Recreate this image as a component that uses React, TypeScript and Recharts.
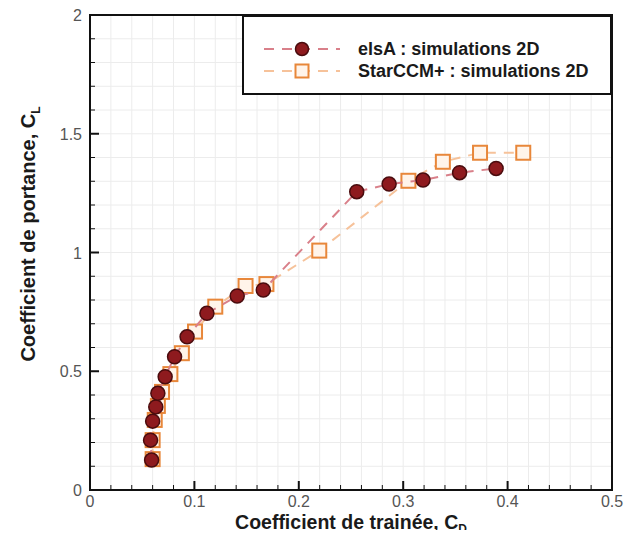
import { CartesianGrid, Label, ReferenceArea, Scatter, ScatterChart, XAxis, YAxis } from "recharts";

// drag coefficient / lift coefficient
const elsaCd = [0.059, 0.058, 0.060, 0.063, 0.065, 0.072, 0.081, 0.093, 0.112, 0.141, 0.166, 0.2555, 0.2865, 0.319, 0.354, 0.389];
const elsaCl = [0.126, 0.21, 0.29, 0.35, 0.407, 0.477, 0.561, 0.645, 0.744, 0.817, 0.842, 1.256, 1.288, 1.305, 1.336, 1.354];

const starCd = [0.060, 0.060, 0.062, 0.065, 0.069, 0.077, 0.088, 0.1006, 0.12, 0.149, 0.169, 0.2196, 0.305, 0.338, 0.3736, 0.415];
const starCl = [0.13, 0.21, 0.295, 0.354, 0.413, 0.488, 0.576, 0.667, 0.772, 0.859, 0.867, 1.008, 1.302, 1.382, 1.42, 1.42];

const xTicks = [0, 0.02, 0.04, 0.06, 0.08, 0.1, 0.12, 0.14, 0.16, 0.18, 0.2, 0.22, 0.24, 0.26, 0.28, 0.3, 0.32, 0.34, 0.36, 0.38, 0.4, 0.42, 0.44, 0.46, 0.48, 0.5];
const yTicks = [0, 0.1, 0.2, 0.3, 0.4, 0.5, 0.6, 0.7, 0.8, 0.9, 1, 1.1, 1.2, 1.3, 1.4, 1.5, 1.6, 1.7, 1.8, 1.9, 2];

const seriesNames = ["elsA : simulations 2D", "StarCCM+ : simulations 2D"];

const elsaData = elsaCd.map((cd, i) => ({ cd, cl: elsaCl[i] }));
const starData = starCd.map((cd, i) => ({ cd, cl: starCl[i] }));

const FONT = "'Liberation Sans', Arial, Helvetica, sans-serif";
const RED = "#8e1a1e";
const RED_EDGE = "#4a0c0e";
const RED_LINE = "#d9808a";
const ORANGE = "#e8873a";
const ORANGE_FILL = "#fff4ea";
const ORANGE_LINE = "#f6c29a";

const isMultiple = (v: number, step: number) => Math.abs(v / step - Math.round(v / step)) < 1e-6;

const XTick = (props: any) => {
  const { x, y, payload } = props;
  const v = payload.value;
  const major = isMultiple(v, 0.1);
  return (
    <g>
      <line x1={x} x2={x} y1={y} y2={y - (major ? 9 : 5)} stroke="#111" strokeWidth={major ? 2 : 1} />
      {major && (
        <text x={x} y={y + 17} textAnchor="middle" fontSize={16} fill="#555" fontFamily={FONT}>
          {String(Math.round(v * 10) / 10)}
        </text>
      )}
    </g>
  );
};

const YTick = (props: any) => {
  const { x, y, payload } = props;
  const v = payload.value;
  const major = isMultiple(v, 0.5);
  return (
    <g>
      <line x1={x} x2={x + (major ? 9 : 5)} y1={y} y2={y} stroke="#111" strokeWidth={major ? 2 : 1} />
      {major && (
        <text x={x - 8} y={y + 6} textAnchor="end" fontSize={16} fill="#555" fontFamily={FONT}>
          {String(v)}
        </text>
      )}
    </g>
  );
};

const XTitle = (props: any) => {
  const { viewBox } = props;
  const cx = viewBox.x + viewBox.width / 2;
  return (
    <text x={cx} y={529} textAnchor="middle" fontSize={19.5} fontWeight="bold" fill="#1a1a1a" fontFamily={FONT}>
      Coefficient de trainée, C
      <tspan fontSize={12} dy={4}>D</tspan>
    </text>
  );
};

const YTitle = () => {
  const cy = 234;
  return (
    <text
      x={35}
      y={cy}
      transform={`rotate(-90 35 ${cy})`}
      textAnchor="middle"
      fontSize={20}
      fontWeight="bold"
      fill="#1a1a1a"
      fontFamily={FONT}
    >
      Coefficient de portance, C
      <tspan fontSize={12} dy={5}>L</tspan>
    </text>
  );
};

const Dot = (props: any) => (
  <circle cx={props.cx} cy={props.cy} r={7} fill={RED} stroke={RED_EDGE} strokeWidth={1.5} />
);

const Box = (props: any) => (
  <rect x={props.cx - 7} y={props.cy - 7} width={14} height={14} fill={ORANGE_FILL} stroke={ORANGE} strokeWidth={2} />
);

const LegendBox = () => (
  <div
    style={{
      position: "absolute",
      left: 242,
      top: 15,
      width: 366,
      height: 76,
      background: "#fff",
      border: "2px solid #111",
      fontFamily: FONT,
      fontWeight: "bold",
      fontSize: 18,
      color: "#1a1a1a",
    }}
  >
    {seriesNames.map((name, i) => (
      <div
        key={name}
        style={{ position: "absolute", left: 16, top: i === 0 ? 22 : 44, height: 20, display: "flex", alignItems: "center" }}
      >
        <svg width={84} height={18}>
          <line
            x1={4}
            x2={80}
            y1={9}
            y2={9}
            stroke={i === 0 ? RED_LINE : ORANGE_LINE}
            strokeWidth={2}
            strokeDasharray="10 8"
          />
          {i === 0 ? (
            <circle cx={42} cy={9} r={6.5} fill={RED} stroke={RED_EDGE} strokeWidth={1.5} />
          ) : (
            <rect x={35.5} y={2.5} width={13} height={13} fill={ORANGE_FILL} stroke={ORANGE} strokeWidth={2} />
          )}
        </svg>
        <span style={{ marginLeft: 14 }}>{name}</span>
      </div>
    ))}
  </div>
);

export default function App() {
  return (
    <div style={{ position: "relative", width: 643, height: 538, margin: -8, background: "#fff" }}>
      <ScatterChart width={643} height={538} margin={{ top: 15, right: 31, bottom: 0, left: 0 }}>
        <CartesianGrid stroke="#ececec" strokeWidth={1} />
        <XAxis
          type="number"
          dataKey="cd"
          domain={[0, 0.5]}
          ticks={xTicks}
          interval={0}
          height={48}
          tickSize={0}
          tickMargin={0}
          tickLine={false}
          axisLine={false}
          tick={<XTick />}
          allowDataOverflow
        >
          <Label content={<XTitle />} />
        </XAxis>
        <YAxis
          type="number"
          dataKey="cl"
          domain={[0, 2]}
          ticks={yTicks}
          interval={0}
          width={90}
          tickSize={0}
          tickMargin={0}
          tickLine={false}
          axisLine={false}
          tick={<YTick />}
          allowDataOverflow
        >
          <Label content={<YTitle />} />
        </YAxis>
        <Scatter
          name={seriesNames[1]}
          data={starData}
          shape={<Box />}
          line={{ stroke: ORANGE_LINE, strokeWidth: 2, strokeDasharray: "10 8" }}
          lineType="joint"
          isAnimationActive={false}
        />
        <Scatter
          name={seriesNames[0]}
          data={elsaData}
          shape={<Dot />}
          line={{ stroke: RED_LINE, strokeWidth: 2, strokeDasharray: "10 8" }}
          lineType="joint"
          isAnimationActive={false}
        />
        <ReferenceArea x1={0} x2={0.5} y1={0} y2={2} fill="none" stroke="#111" strokeWidth={2} ifOverflow="visible" />
      </ScatterChart>
      <LegendBox />
    </div>
  );
}
